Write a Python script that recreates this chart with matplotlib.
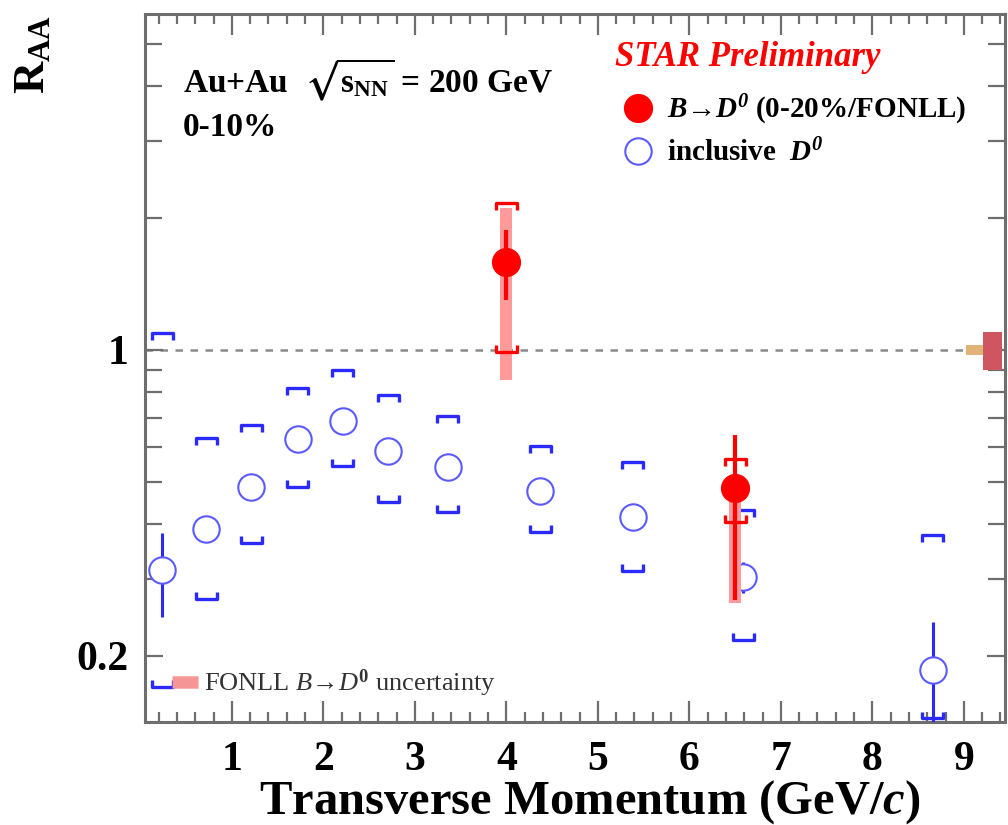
import matplotlib
matplotlib.use("Agg")
import matplotlib.pyplot as plt
from matplotlib.lines import Line2D
import numpy as np

plt.rcParams["font.family"] = ["Liberation Serif", "DejaVu Serif"]
plt.rcParams["font.weight"] = "bold"
plt.rcParams["mathtext.fontset"] = "custom"
plt.rcParams["mathtext.rm"] = "Liberation Serif:bold"
plt.rcParams["mathtext.bf"] = "Liberation Serif:bold"
plt.rcParams["mathtext.it"] = "Liberation Serif:italic:normal"
plt.rcParams["mathtext.bfit"] = "Liberation Serif:italic:bold"
plt.rcParams["mathtext.fallback"] = "stix"

# inclusive D0, 0-10%
d0_pt = [0.24, 0.72, 1.21, 1.72, 2.21, 2.71, 3.36, 4.37, 5.38, 6.59, 8.66]
d0_raa = [0.315, 0.390, 0.486, 0.626, 0.689, 0.588, 0.541, 0.476, 0.415, 0.303, 0.186]
d0_stat_lo = [0.246, 0.375, 0.470, 0.610, 0.672, 0.572, 0.525, 0.460, 0.400, 0.279, 0.130]
d0_stat_hi = [0.382, 0.405, 0.502, 0.642, 0.706, 0.604, 0.557, 0.492, 0.430, 0.328, 0.239]
d0_sys_lo = [0.170, 0.270, 0.362, 0.486, 0.543, 0.450, 0.427, 0.384, 0.313, 0.218, 0.144]
d0_sys_hi = [1.094, 0.630, 0.674, 0.819, 0.900, 0.789, 0.707, 0.604, 0.555, 0.431, 0.378]

# B -> D0 (0-20% / FONLL)
b_pt = [4.0, 6.5]
b_raa = [1.59, 0.484]
b_stat_lo = [1.30, 0.269]
b_stat_hi = [1.88, 0.640]
b_sys_lo = [0.99, 0.405]
b_sys_hi = [2.17, 0.564]
fonll_lo = [0.854, 0.264]
fonll_hi = [2.11, 0.46]

# global normalisation uncertainties at R_AA = 1
glob_unc = [0.025, 0.10]

BLUE = "#2a2aff"
RED = "#ff0000"
PINK = "#ff9a9a"


def brackets(ax, xs, lo, hi, color, z):
    hw, leg = 0.115, 1.037
    for x, l, h in zip(xs, lo, hi):
        ax.plot([x - hw, x - hw, x + hw, x + hw], [h / leg, h, h, h / leg],
                color=color, lw=2.4, zorder=z, solid_capstyle="butt")
        ax.plot([x - hw, x - hw, x + hw, x + hw], [l * leg, l, l, l * leg],
                color=color, lw=2.4, zorder=z, solid_capstyle="butt")


fig = plt.figure(figsize=(10.08, 8.25), dpi=100)
ax = fig.add_axes([0.1438, 0.1248, 0.8532, 0.8582])
ax.set_yscale("log")
ax.set_xlim(0.05, 9.45)
ax.set_ylim(0.1413, 5.85)

ax.hlines(1.0, 0.05, 9.02, colors="#8a8a8a", linestyles=(0, (3, 3)), lw=1.8, zorder=1)

# global uncertainty boxes
ax.bar(9.115, 2 * glob_unc[0], bottom=1 - glob_unc[0], width=0.19, color="#e0b377", zorder=2)
ax.bar(9.315, 2 * glob_unc[1], bottom=1 - glob_unc[1], width=0.2, color="#cf5560", zorder=2)

# inclusive D0
brackets(ax, d0_pt, d0_sys_lo, d0_sys_hi, BLUE, 3)
ax.vlines(d0_pt, d0_stat_lo, d0_stat_hi, colors=BLUE, lw=2.2, zorder=3)
ax.plot(d0_pt, d0_raa, "o", ms=19, mfc="white", mec="#5a5aff", mew=1.5, zorder=4)

# B -> D0
ax.bar(b_pt, np.array(fonll_hi) - np.array(fonll_lo), bottom=fonll_lo, width=0.13,
       color=PINK, zorder=5)
brackets(ax, b_pt, b_sys_lo, b_sys_hi, RED, 6)
ax.vlines(b_pt, b_stat_lo, b_stat_hi, colors=RED, lw=3.0, zorder=6)
ax.plot(b_pt, b_raa, "o", ms=20, color=RED, zorder=7)

# axes style
for sp in ax.spines.values():
    sp.set_color("#6e6e6e")
    sp.set_linewidth(2.2)
ax.set_xticks(range(1, 10))
ax.set_xticklabels([str(i) for i in range(1, 10)])
ax.set_xticks(np.arange(0.2, 9.45, 0.2), minor=True)
ax.set_yticks([0.2, 1])
ax.set_yticklabels(["0.2", "1"])
ax.set_yticks([0.3, 0.4, 0.5, 0.6, 0.7, 0.8, 0.9, 2, 3, 4, 5], minor=True)
ax.yaxis.set_minor_formatter(plt.NullFormatter())
ax.tick_params(axis="both", which="both", direction="in", top=True, right=True,
               color="#6e6e6e", width=1.6)
ax.tick_params(axis="x", which="major", length=15, labelsize=30, pad=14)
ax.tick_params(axis="x", which="minor", length=7.5)
ax.tick_params(axis="y", which="major", length=13, labelsize=30, pad=12)
ax.tick_params(axis="y", which="minor", length=12)
for lab in ax.get_xticklabels() + ax.get_yticklabels():
    lab.set_fontweight("bold")

# labels
fig.text(0.033, 0.982, r"$\mathbf{R}_{\mathbf{AA}}$", rotation=90, ha="center", va="top",
         fontsize=32)
fig.text(0.585, 0.028, r"Transverse Momentum (GeV/$\mathbfit{c}$)", ha="center",
         va="center", fontsize=35, fontweight="bold")

ax.text(0.044, 0.907, r"Au+Au  $\sqrt{\mathbf{s}_{\mathbf{NN}}}$ = 200 GeV",
        transform=ax.transAxes, fontsize=24, fontweight="bold", va="center")
ax.text(0.044, 0.840, "0-10%", transform=ax.transAxes, fontsize=24,
        fontweight="bold", va="center")
ax.text(0.546, 0.938, "STAR Preliminary", transform=ax.transAxes, fontsize=25,
        fontweight="bold", style="italic", color=RED, va="center")

h1 = Line2D([], [], ls="none", marker="o", ms=20, color=RED)
h2 = Line2D([], [], ls="none", marker="o", ms=19, mfc="white", mec="#5a5aff", mew=1.5)
leg1 = ax.legend([h1, h2],
                 [r"$\mathbfit{B}$→$\mathbfit{D^0}$ (0-20%/FONLL)", r"inclusive  $\mathbfit{D^0}$"],
                 loc="center left", bbox_to_anchor=(0.556, 0.836), frameon=False,
                 prop={"family": "Liberation Serif", "weight": "bold", "size": 21},
                 handlelength=1.0, handletextpad=0.5, labelspacing=0.42, borderpad=0,
                 borderaxespad=0)
ax.add_artist(leg1)
h3 = Line2D([], [], color="#f59595", lw=9, solid_capstyle="butt")
ax.legend([h3], [r"FONLL $\mathit{B}$→$\mathit{D^0}$ uncertainty"], loc="center left",
          bbox_to_anchor=(0.0314, 0.055), frameon=False,
          prop={"family": "Liberation Serif", "weight": "normal", "size": 19},
          handlelength=1.0, handletextpad=0.2, borderpad=0, borderaxespad=0,
          labelcolor="#333333")

fig.savefig("out.png", facecolor="white")
